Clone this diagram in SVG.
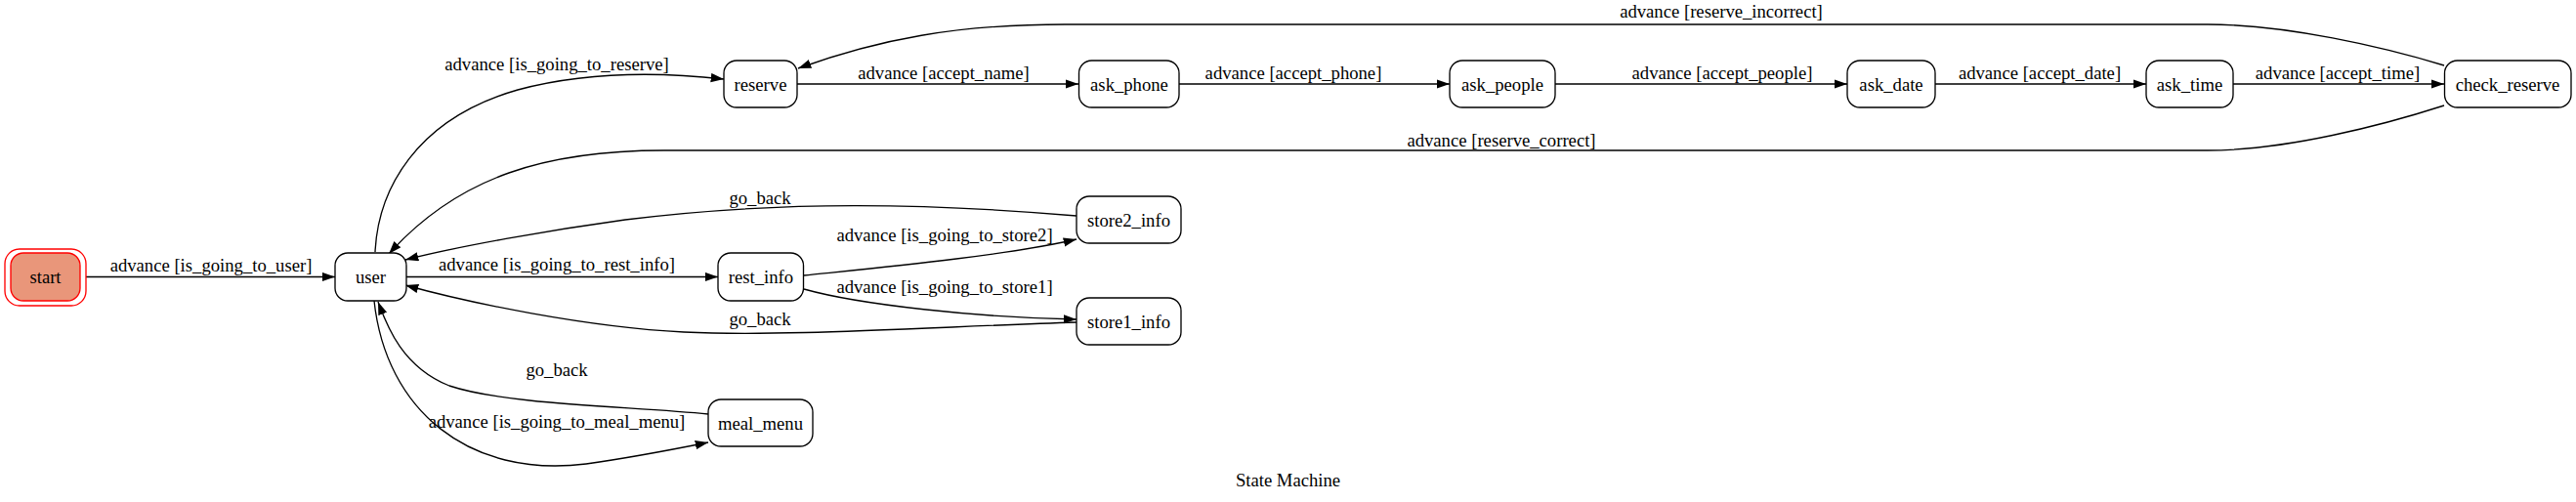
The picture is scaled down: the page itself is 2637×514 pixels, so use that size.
<svg xmlns="http://www.w3.org/2000/svg" width="2637" height="514" viewBox="0 0 2637 514">
<style>
text{font-family:"Liberation Serif","Times New Roman",serif;font-size:18.67px;fill:#000;text-anchor:middle}
.node rect{fill:#fff;stroke:#000;stroke-width:1.33}
.edge{fill:none;stroke:#000;stroke-width:1.33;marker-end:url(#arr)}
</style>
<defs>
<marker id="arr" markerUnits="userSpaceOnUse" markerWidth="14" markerHeight="10" refX="13.3" refY="4.67" orient="auto">
<path d="M0,0 L13.3,4.67 L0,9.33 z" fill="#000"/>
</marker>
</defs>
<rect x="0" y="0" width="2637" height="514" fill="#fff"/>
<g id="connectors">
<path class="edge" d="M88,283.5 L343,283.5"/>
<path class="edge" d="M384,258 C387,195 425,122 530,92 C590,76 660,72 741,81"/>
<path class="edge" d="M816,86 L1104,86"/>
<path class="edge" d="M1207,86 L1484,86"/>
<path class="edge" d="M1592,86 L1891,86"/>
<path class="edge" d="M1981,86 L2197,86"/>
<path class="edge" d="M2286,86 L2502,86"/>
<path class="edge" d="M2502,67 C2440,48 2340,25 2260,25 L1090,25 C980,25 900,40 817,70"/>
<path class="edge" d="M2502,108 C2440,128 2340,154 2260,154 L680,154 C560,154 470,180 398,260"/>
<path class="edge" d="M416,283.5 L735,283.5"/>
<path class="edge" d="M823,282 C890,275 1030,262 1102,245"/>
<path class="edge" d="M823,296 C880,312 1000,325 1102,327"/>
<path class="edge" d="M1102,221 C950,208 800,205 640,225 C560,236 470,252 415,266"/>
<path class="edge" d="M1102,330 C950,335 800,345 700,340 C600,335 480,310 415,292"/>
<path class="edge" d="M383,308 C395,420 480,490 600,475 C650,468 690,460 725,453"/>
<path class="edge" d="M725,424 C650,416 520,415 460,395 C410,375 395,330 387,309"/>
<text x="216" y="278">advance [is_going_to_user]</text>
<text x="570" y="72">advance [is_going_to_reserve]</text>
<text x="966" y="81">advance [accept_name]</text>
<text x="1324" y="81">advance [accept_phone]</text>
<text x="1763" y="81">advance [accept_people]</text>
<text x="2088" y="81">advance [accept_date]</text>
<text x="2393" y="81">advance [accept_time]</text>
<text x="1762" y="18">advance [reserve_incorrect]</text>
<text x="1537" y="150">advance [reserve_correct]</text>
<text x="570" y="277">advance [is_going_to_rest_info]</text>
<text x="967" y="247">advance [is_going_to_store2]</text>
<text x="967" y="300">advance [is_going_to_store1]</text>
<text x="778" y="209">go_back</text>
<text x="778" y="333">go_back</text>
<text x="570" y="385">go_back</text>
<text x="570" y="438">advance [is_going_to_meal_menu]</text>
</g>
<g id="start">
<rect x="5" y="255" width="83" height="58" rx="15" fill="none" stroke="#f00" stroke-width="1.33"/>
<rect x="11" y="259" width="71" height="49" rx="13" fill="#e9967a" stroke="#f00" stroke-width="1.33"/>
<text x="46.5" y="290">start</text>
</g>
<g id="user" class="node"><rect x="343" y="259" width="73" height="49" rx="13"/><text x="379.5" y="290">user</text></g>
<g id="reserve" class="node"><rect x="741" y="62" width="75" height="48" rx="13"/><text x="778.5" y="92.5">reserve</text></g>
<g id="ask_phone" class="node"><rect x="1104.5" y="62" width="102.5" height="48" rx="13"/><text x="1156" y="92.5">ask_phone</text></g>
<g id="ask_people" class="node"><rect x="1484" y="62" width="108" height="48" rx="13"/><text x="1538" y="92.5">ask_people</text></g>
<g id="ask_date" class="node"><rect x="1891" y="62" width="90" height="48" rx="13"/><text x="1936" y="92.5">ask_date</text></g>
<g id="ask_time" class="node"><rect x="2197" y="62" width="89" height="48" rx="13"/><text x="2241.5" y="92.5">ask_time</text></g>
<g id="check_reserve" class="node"><rect x="2502.5" y="62" width="129.5" height="48" rx="13"/><text x="2567" y="92.5">check_reserve</text></g>
<g id="rest_info" class="node"><rect x="735" y="259" width="87.5" height="49" rx="13"/><text x="779" y="290">rest_info</text></g>
<g id="store2_info" class="node"><rect x="1102" y="201" width="107" height="48" rx="13"/><text x="1155.5" y="231.5">store2_info</text></g>
<g id="store1_info" class="node"><rect x="1102" y="305" width="107" height="48" rx="13"/><text x="1155.5" y="335.5">store1_info</text></g>
<g id="meal_menu" class="node"><rect x="725" y="409" width="107" height="48" rx="13"/><text x="778.5" y="439.5">meal_menu</text></g>
<text x="1318.5" y="498">State Machine</text>
</svg>
